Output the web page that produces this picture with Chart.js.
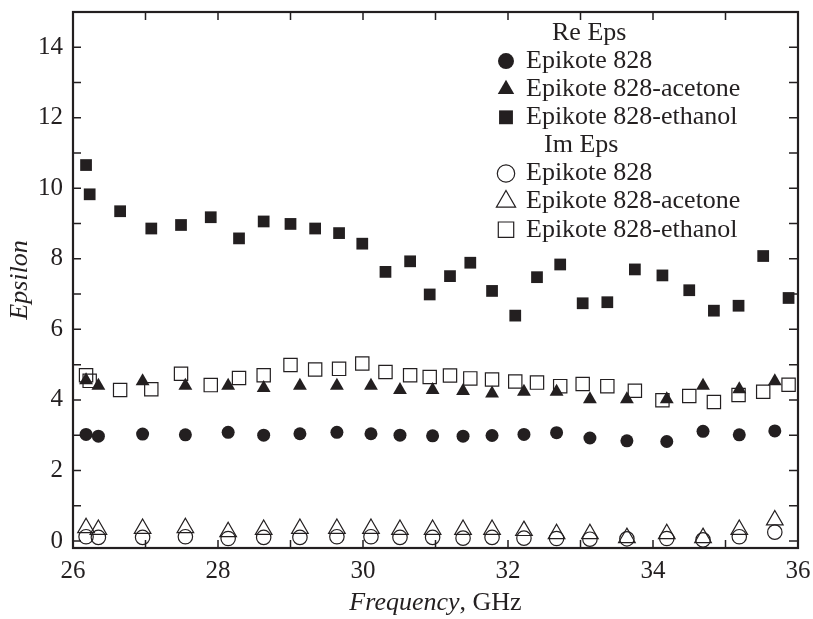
<!DOCTYPE html>
<html>
<head>
<meta charset="utf-8">
<script src="https://cdn.jsdelivr.net/npm/chart.js@4.4.1/dist/chart.umd.min.js"></script>
<style>
  html, body { margin: 0; padding: 0; background: #fff; }
</style>
</head>
<body>
<canvas id="epsChart" width="813" height="619"></canvas>
<script>
// frequencies, GHz
const freqA = [26.18, 26.35, 26.96, 27.55, 28.14, 28.63, 29.13, 29.64, 30.11, 30.51, 30.96,
  31.38, 31.78, 32.22, 32.67, 33.13, 33.64, 34.19, 34.69, 35.19, 35.68];
const freqB = [26.18, 26.23, 26.65, 27.08, 27.49, 27.90, 28.29, 28.63, 29.00, 29.34, 29.67, 29.99,
  30.31, 30.65, 30.92, 31.20, 31.48, 31.78, 32.10, 32.40, 32.72, 33.03, 33.37, 33.75, 34.13,
  34.50, 34.84, 35.18, 35.52, 35.87];

// Re Eps
const reEpikote = [3.02, 2.97, 3.03, 3.01, 3.08, 3.00, 3.04, 3.08, 3.04, 3.00, 2.98,
  2.97, 2.99, 3.02, 3.07, 2.92, 2.84, 2.82, 3.11, 3.01, 3.12];
const reAcetone = [4.56, 4.40, 4.53, 4.40, 4.40, 4.34, 4.40, 4.40, 4.40, 4.28, 4.28,
  4.25, 4.18, 4.23, 4.23, 4.02, 4.02, 4.02, 4.40, 4.30, 4.53];
const reEthanol = [10.66, 9.83, 9.35, 8.86, 8.96, 9.18, 8.58, 9.06, 8.99, 8.86, 8.73, 8.43,
  7.63, 7.93, 6.99, 7.51, 7.89, 7.09, 6.39, 7.48, 7.84, 6.74, 6.77, 7.70, 7.53,
  7.11, 6.53, 6.67, 8.08, 6.89];

// Im Eps
const imEpikote = [0.12, 0.10, 0.10, 0.12, 0.07, 0.10, 0.10, 0.12, 0.12, 0.10, 0.10,
  0.08, 0.10, 0.08, 0.07, 0.05, 0.06, 0.07, 0.03, 0.12, 0.25];
const imAcetone = [0.37, 0.32, 0.35, 0.37, 0.26, 0.32, 0.35, 0.35, 0.35, 0.32, 0.32,
  0.32, 0.32, 0.29, 0.20, 0.20, 0.09, 0.20, 0.09, 0.32, 0.59];
const imEthanol = [4.70, 4.54, 4.28, 4.30, 4.74, 4.42, 4.62, 4.70, 4.99, 4.86, 4.88, 5.03,
  4.79, 4.70, 4.65, 4.69, 4.61, 4.58, 4.52, 4.49, 4.39, 4.45, 4.39, 4.26, 3.99,
  4.11, 3.94, 4.14, 4.23, 4.43];

// axis ticks
const xTickLabels = [26, 28, 30, 32, 34, 36];
const yTickLabels = [0, 2, 4, 6, 8, 10, 12, 14];
const xTickMarks = [26, 27, 28, 29, 30, 31, 32, 33, 34, 35, 36];
const yTickMarks = [0, 1, 2, 3, 4, 5, 6, 7, 8, 9, 10, 11, 12, 13, 14];

const INK = '#231f20';
const SERIF = '"Liberation Serif", "Times New Roman", serif';

function pts(xs, ys) {
  return xs.map((x, i) => ({ x, y: ys[i] }));
}

function series(label, xs, ys, style, radius, filled) {
  return {
    label,
    data: pts(xs, ys),
    pointStyle: style,
    pointRadius: radius,
    pointHoverRadius: radius,
    pointBackgroundColor: filled ? INK : 'rgba(0,0,0,0)',
    pointBorderColor: INK,
    pointBorderWidth: filled ? 0 : 1.2,
    showLine: false,
    group: filled ? 're' : 'im',
    legendRadius: radius + 1.5,
  };
}

// filled ones first so they end up on top
const datasets = [
  series('Epikote 828', freqA, reEpikote, 'circle', 6.5, true),
  series('Epikote 828-acetone', freqA, reAcetone, 'triangle', 8, true),
  series('Epikote 828-ethanol', freqB, reEthanol, 'rect', 8.3, true),
  series('Epikote 828', freqA, imEpikote, 'circle', 7.2, false),
  series('Epikote 828-acetone', freqA, imAcetone, 'triangle', 9.6, false),
  series('Epikote 828-ethanol', freqB, imEthanol, 'rect', 9.4, false),
];

function marker(ctx, style, x, y, r, filled) {
  ctx.beginPath();
  if (style === 'circle') {
    ctx.arc(x, y, r, 0, Math.PI * 2);
  } else if (style === 'triangle') {
    for (let k = 0; k < 3; k++) {
      const a = k * 2 * Math.PI / 3;
      const px = x + Math.sin(a) * r, py = y - Math.cos(a) * r;
      k ? ctx.lineTo(px, py) : ctx.moveTo(px, py);
    }
    ctx.closePath();
  } else {
    const s = r * Math.SQRT1_2;
    ctx.rect(x - s, y - s, 2 * s, 2 * s);
  }
  if (filled) ctx.fill();
  else ctx.stroke();
}

// frame + inward ticks on all 4 sides
const frameTicks = {
  id: 'frameTicks',
  beforeDatasetsDraw(chart) {
    const { ctx, chartArea: a } = chart;
    const { x, y } = chart.scales;
    ctx.save();
    ctx.strokeStyle = INK;
    ctx.lineWidth = 1.5;
    ctx.beginPath();
    xTickMarks.forEach((v) => {
      const px = x.getPixelForValue(v);
      ctx.moveTo(px, a.bottom); ctx.lineTo(px, a.bottom - 8);
      ctx.moveTo(px, a.top); ctx.lineTo(px, a.top + 8);
    });
    yTickMarks.forEach((v) => {
      const py = y.getPixelForValue(v);
      ctx.moveTo(a.left, py); ctx.lineTo(a.left + 8, py);
      ctx.moveTo(a.right, py); ctx.lineTo(a.right - 9, py);
    });
    ctx.stroke();
    ctx.lineWidth = 2.2;
    ctx.strokeRect(a.left, a.top, a.right - a.left, a.bottom - a.top);
    ctx.restore();
  },
};

// axis titles (mixed italic / roman) + legend with group headers
const labelsAndLegend = {
  id: 'labelsAndLegend',
  afterDraw(chart) {
    const { ctx, chartArea: a } = chart;
    ctx.save();
    ctx.fillStyle = INK;
    ctx.strokeStyle = INK;
    ctx.textBaseline = 'middle';

    // x title
    const cx = (a.left + a.right) / 2;
    ctx.font = 'italic 26px ' + SERIF;
    const w1 = ctx.measureText('Frequency').width;
    ctx.font = '26px ' + SERIF;
    const w2 = ctx.measureText(', GHz').width;
    let sx = cx - (w1 + w2) / 2;
    ctx.textAlign = 'left';
    ctx.font = 'italic 26px ' + SERIF;
    ctx.fillText('Frequency', sx, 603);
    ctx.font = '26px ' + SERIF;
    ctx.fillText(', GHz', sx + w1, 603);

    // y title
    ctx.save();
    ctx.translate(20, (a.top + a.bottom) / 2);
    ctx.rotate(-Math.PI / 2);
    ctx.textAlign = 'center';
    ctx.font = 'italic 26px ' + SERIF;
    ctx.fillText('Epsilon', 0, 0);
    ctx.restore();

    // legend
    const rowH = 28.1;
    const mx = 506, tx = 526;
    let ly = 33;
    ctx.font = '26px ' + SERIF;
    ctx.textAlign = 'left';
    ctx.lineWidth = 1.2;
    ctx.fillText('Re Eps', 552, ly);
    ly += rowH;
    datasets.forEach((ds, i) => {
      if (i === 3) {
        ctx.fillText('Im Eps', 544, ly);
        ly += rowH;
      }
      const filled = ds.group === 're';
      marker(ctx, ds.pointStyle, mx, ly, ds.legendRadius, filled);
      ctx.fillText(ds.label, tx, ly);
      ly += rowH;
    });
    ctx.restore();
  },
};

new Chart(document.getElementById('epsChart'), {
  type: 'scatter',
  data: { datasets },
  options: {
    responsive: false,
    animation: false,
    events: [],
    layout: { padding: { top: 12, right: 15, left: 0, bottom: 0 } },
    plugins: {
      legend: { display: false },
      tooltip: { enabled: false },
    },
    scales: {
      x: {
        type: 'linear',
        min: 26,
        max: 36,
        grid: { display: false, drawTicks: false },
        border: { display: false },
        afterBuildTicks: (s) => { s.ticks = xTickLabels.map((v) => ({ value: v })); },
        afterFit: (s) => { s.height = 71; s.paddingLeft = 0; s.paddingRight = 0; },
        ticks: { color: INK, font: { family: SERIF, size: 25 }, padding: 8, maxRotation: 0 },
      },
      y: {
        type: 'linear',
        min: -0.2,
        max: 15,
        grid: { display: false, drawTicks: false },
        border: { display: false },
        afterBuildTicks: (s) => { s.ticks = yTickLabels.map((v) => ({ value: v })); },
        afterFit: (s) => { s.width = 73; s.paddingTop = 0; s.paddingBottom = 0; },
        ticks: { color: INK, font: { family: SERIF, size: 25 }, padding: 10 },
      },
    },
  },
  plugins: [frameTicks, labelsAndLegend],
});
</script>
</body>
</html>
